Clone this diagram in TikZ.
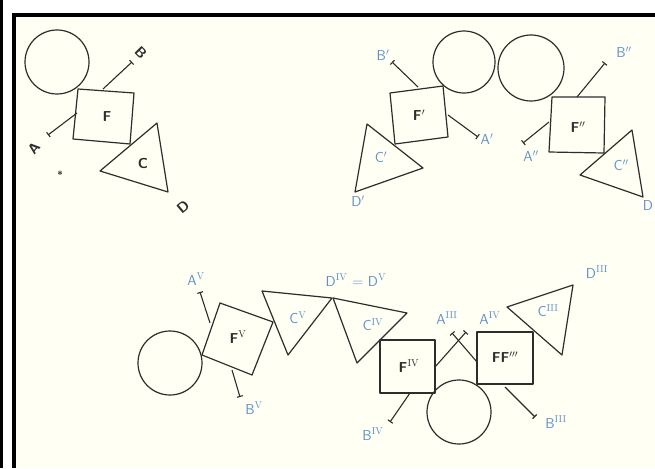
\documentclass[tikz,border=0pt]{standalone}
\usepackage{tikz}
\usetikzlibrary{arrows.meta}

\definecolor{paper}{RGB}{255,255,243}
\definecolor{pencil}{RGB}{45,45,45}
\definecolor{ink}{RGB}{95,145,200}

\begin{document}
\begin{tikzpicture}[x=1pt, y=-1pt,
    outline/.style={draw=pencil, line width=1.2pt, line join=round},
    arm/.style={draw=pencil, line width=1.1pt, -{Bar[width=6pt, line width=1.1pt]}},
    lbl/.style={font=\sffamily\Large, text=ink, inner sep=0pt},
    blk/.style={font=\sffamily\bfseries\Large, text=pencil, inner sep=0pt}]
  % Frame and paper
  \useasboundingbox (0,0) rectangle (655,468);
  \fill[white] (0,0) rectangle (655,468);
  \fill[black] (0,0) rectangle (3,468);
  \fill[black] (12,13) rectangle (655,468);
  \fill[paper] (16,17) rectangle (655,468);

  % ---- Top left: F, C ----
  \draw[outline] (57,62) circle[radius=32pt];
  \draw[outline] (78,89) -- (134,93) -- (130,144) -- (73,139) -- cycle;
  \draw[outline] (100,171) -- (157,123) -- (168,192) -- cycle;
  \coordinate (fB) at (103,89);  \coordinate (eB) at (132,62);
  \coordinate (fA) at (77,113);  \coordinate (eA) at (48,135);
  \draw[arm] (fB) -- (eB);
  \draw[arm] (fA) -- (eA);
  \node[blk] (F)  at (107,117) {F};
  \node[blk] (C)  at (143,163) {C};
  \node[blk, rotate=-45] (B) at (141,53) {B};
  \node[blk, rotate=50]  (A) at (34,148) {A};
  \node[blk, rotate=40]  (D) at (183,207) {D};
  \node[blk, font=\sffamily\bfseries\normalsize] (star) at (60,175) {*};

  % ---- Top right: F', F'' ----
  \draw[outline] (464,62) circle[radius=31pt];
  \draw[outline] (531,68) circle[radius=33pt];
  \draw[outline] (390,93) -- (443,86) -- (448,137) -- (395,144) -- cycle;
  \draw[outline] (367,124) -- (423,168) -- (355,192) -- cycle;
  \draw[outline] (552,97) -- (605,97) -- (604,153) -- (549,152) -- cycle;
  \draw[outline] (580,175) -- (632,130) -- (643,197) -- cycle;
  \coordinate (f1B) at (418,87);  \coordinate (e1B) at (392,62);
  \coordinate (f1A) at (448,115); \coordinate (e1A) at (478,137);
  \coordinate (f2B) at (577,97);  \coordinate (e2B) at (605,63);
  \coordinate (f2A) at (549,122); \coordinate (e2A) at (523,143);
  \draw[arm] (f1B) -- (e1B);
  \draw[arm] (f1A) -- (e1A);
  \draw[arm] (f2B) -- (e2B);
  \draw[arm] (f2A) -- (e2A);
  \node[blk] (F1) at (419,115) {F$'$};
  \node[blk] (F2) at (578,127) {F$''$};
  \node[lbl] (B1) at (383,55)  {B$'$};
  \node[lbl] (A1) at (487,139) {A$'$};
  \node[lbl] (C1) at (381,157) {C$'$};
  \node[lbl] (D1) at (358,201) {D$'$};
  \node[lbl] (B2) at (624,52)  {B$''$};
  \node[lbl] (A2) at (531,156) {A$''$};
  \node[lbl] (C2) at (621,165) {C$''$};
  \node[lbl] (D2) at (648,206) {D};

  % ---- Bottom: FV, FIV, F''' ----
  \draw[outline] (170,363) circle[radius=32pt];
  \draw[outline] (220,303) -- (273,322) -- (252,375) -- (202,355) -- cycle;
  \draw[outline] (262,291) -- (332,298) -- (288,355) -- cycle;
  \draw[outline] (333,298) -- (407,313) -- (357,363) -- cycle;
  \draw[outline] (380,340) rectangle (435,393);
  \draw[outline] (459,412) circle[radius=32pt];
  \draw[outline] (477,332) rectangle (533,384);
  \draw[outline] (507,307) -- (573,285) -- (562,355) -- cycle;
  \coordinate (f5A) at (210,323); \coordinate (e5A) at (200,292);
  \coordinate (f5B) at (232,370); \coordinate (e5B) at (240,397);
  \coordinate (f4B) at (410,393); \coordinate (e4B) at (390,422);
  \coordinate (f4A) at (435,367); \coordinate (e4A) at (466,332);
  \coordinate (f3A) at (477,362); \coordinate (e3A) at (452,333);
  \coordinate (f3B) at (505,387); \coordinate (e3B) at (535,417);
  \draw[arm] (f5A) -- (e5A);
  \draw[arm] (f5B) -- (e5B);
  \draw[arm] (f4B) -- (e4B);
  \draw[arm] (f4A) -- (e4A);
  \draw[arm] (f3A) -- (e3A);
  \draw[arm] (f3B) -- (e3B);
  \node[blk] (F5) at (238,337) {F$^{\mathrm{V}}$};
  \node[blk] (F4) at (409,366) {F$^{\mathrm{IV}}$};
  \node[blk] (F3) at (505,357) {FF$'''$};
  \node[lbl] (A5) at (196,279) {A$^{\mathrm{V}}$};
  \node[lbl] (B5) at (254,408) {B$^{\mathrm{V}}$};
  \node[lbl] (C5) at (298,318) {C$^{\mathrm{V}}$};
  \node[lbl] (C4) at (373,325) {C$^{\mathrm{IV}}$};
  \node[lbl] (D4) at (356,280) {D$^{\mathrm{IV}}$ = D$^{\mathrm{V}}$};
  \node[lbl] (B4) at (373,434) {B$^{\mathrm{IV}}$};
  \node[lbl] (A3) at (447,318) {A$^{\mathrm{III}}$};
  \node[lbl] (A4) at (490,318) {A$^{\mathrm{IV}}$};
  \node[lbl] (B3) at (556,422) {B$^{\mathrm{III}}$};
  \node[lbl] (C3) at (548,311) {C$^{\mathrm{III}}$};
  \node[lbl] (D3) at (597,272) {D$^{\mathrm{III}}$};
\end{tikzpicture}
\end{document}
